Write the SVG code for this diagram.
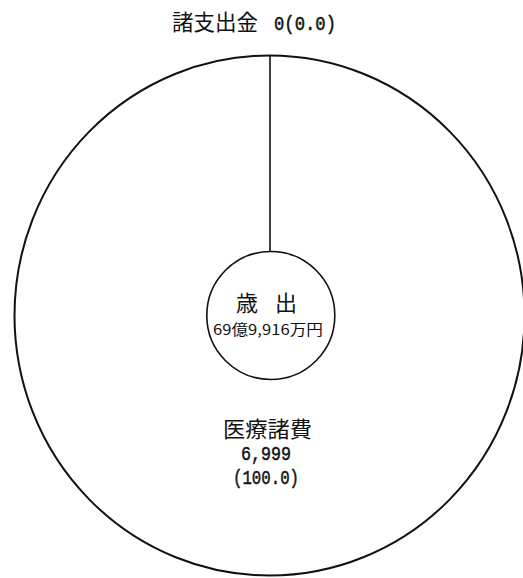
<svg xmlns="http://www.w3.org/2000/svg" width="523" height="578" viewBox="0 0 523 578">
<style>
.cjk{font-family:"Noto Sans CJK JP","Noto Sans",sans-serif;fill:#111}
.mono{font-family:"Liberation Mono","DejaVu Sans Mono",monospace;fill:#111;stroke:#111;stroke-width:0.5}
.ring{fill:#fff;stroke:#111}
</style>
<rect width="523" height="578" fill="#fff"/>
<g id="pie">
<ellipse class="ring" cx="269.5" cy="315.5" rx="255" ry="260" stroke-width="2"/>
</g>
<g id="connectors">
<line x1="270" y1="56" x2="270" y2="252" stroke="#111" stroke-width="1.6"/>
</g>
<g id="center">
<circle class="ring" cx="270.8" cy="315.5" r="64" stroke-width="1.6"/>
<text class="cjk" x="266.5" y="311" font-size="22" text-anchor="middle" word-spacing="12">歳 出</text>
<text class="cjk" x="213" y="335" font-size="14.5" textLength="110" lengthAdjust="spacingAndGlyphs">69億9,916万円</text>
</g>
<g id="label-top">
<text y="30" font-size="21.5"><tspan class="cjk" x="172">諸支出金 </tspan><tspan class="mono" x="274" font-size="21" textLength="62" lengthAdjust="spacingAndGlyphs">0(0.0)</tspan></text>
</g>
<g id="label-main">
<text class="cjk" x="223" y="437" font-size="22" textLength="89" lengthAdjust="spacingAndGlyphs">医療諸費</text>
<text class="mono" x="241" y="460" font-size="21" textLength="50" lengthAdjust="spacingAndGlyphs">6,999</text>
<text class="mono" x="233" y="484" font-size="21" textLength="66" lengthAdjust="spacingAndGlyphs">(100.0)</text>
</g>
</svg>
